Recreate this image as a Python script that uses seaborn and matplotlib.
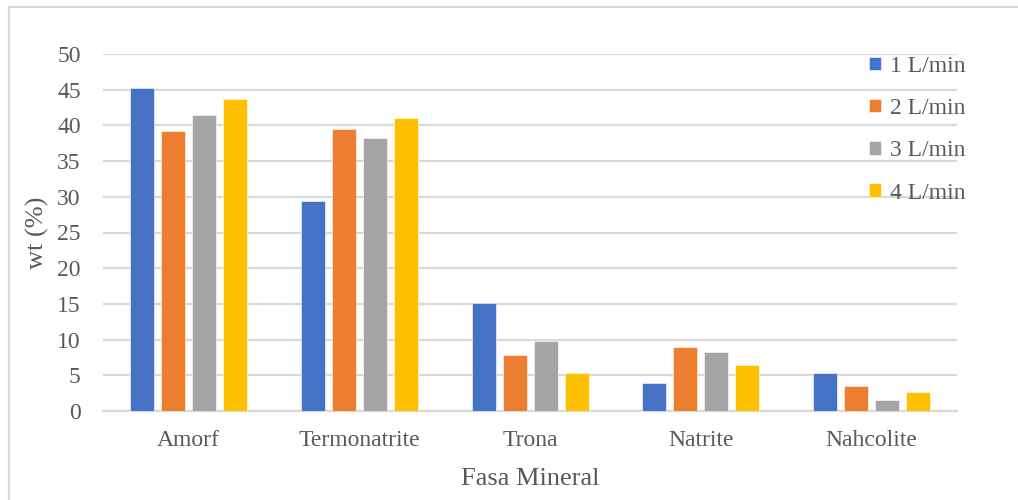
import matplotlib
matplotlib.use("Agg")
import matplotlib.pyplot as plt
from matplotlib.lines import Line2D
import pandas as pd
import seaborn as sns

# Mineral phases and weight fraction (%) at each gas flow rate
minerals = ["Amorf", "Termonatrite", "Trona", "Natrite", "Nahcolite"]
flow_rates = ["1 L/min", "2 L/min", "3 L/min", "4 L/min"]
wt_1 = [45.3, 29.4, 15.1, 3.9, 5.3]
wt_2 = [39.2, 39.5, 7.8, 8.9, 3.5]
wt_3 = [41.5, 38.3, 9.8, 8.2, 1.5]
wt_4 = [43.7, 41.1, 5.3, 6.5, 2.6]
y_ticks = [0, 5, 10, 15, 20, 25, 30, 35, 40, 45, 50]

colors = ["#4472C4", "#ED7D31", "#A5A5A5", "#FFC000"]
text_color = "#595959"
grid_color = "#D9D9D9"

rows = []
for rate, vals in zip(flow_rates, [wt_1, wt_2, wt_3, wt_4]):
    for m, v in zip(minerals, vals):
        rows.append({"Fasa Mineral": m, "Laju": rate, "wt": v})
df = pd.DataFrame(rows)

sns.set_style("white")
plt.rcParams["font.family"] = ["Liberation Serif", "DejaVu Serif"]

fig = plt.figure(figsize=(10.18, 5.0), dpi=100)
ax = fig.add_axes([0.1012, 0.178, 0.8389, 0.714])

sns.barplot(
    data=df, x="Fasa Mineral", y="wt", hue="Laju",
    order=minerals, hue_order=flow_rates, palette=colors, saturation=1,
    width=0.726, gap=0.226, errorbar=None, ax=ax,
    edgecolor="white", linewidth=0.4, zorder=3,
)

ax.set_ylim(0, 50)
ax.set_xlim(-0.5, len(minerals) - 0.5)
ax.set_yticks(y_ticks)
ax.yaxis.grid(True, color=grid_color, linewidth=1.6, zorder=0)
ax.set_axisbelow(True)
for side in ["top", "right", "left"]:
    ax.spines[side].set_visible(False)
ax.spines["bottom"].set_color(grid_color)
ax.spines["bottom"].set_linewidth(1.6)
ax.tick_params(axis="both", length=0, labelsize=17, colors=text_color)
ax.tick_params(axis="y", pad=16)
ax.tick_params(axis="x", pad=14)

ax.set_xlabel("Fasa Mineral", fontsize=19, color=text_color, labelpad=12)
ax.set_ylabel("wt (%)", fontsize=19, color=text_color, labelpad=6)

handles, labels = ax.get_legend_handles_labels()
ax.legend(
    handles, labels, loc="upper left", bbox_to_anchor=(857 / 1018, 1 - 44 / 500),
    bbox_transform=fig.transFigure, frameon=False, fontsize=17,
    handlelength=0.5, handleheight=0.5, handletextpad=0.4,
    labelspacing=0.9, borderpad=0, labelcolor=text_color,
)

# Chart frame edges
fig.add_artist(Line2D([9 / 1018, 9 / 1018], [0, 1 - 7 / 500],
                      transform=fig.transFigure, color=grid_color, linewidth=1.6))
fig.add_artist(Line2D([9 / 1018, 1], [1 - 7 / 500, 1 - 7 / 500],
                      transform=fig.transFigure, color=grid_color, linewidth=1.6))

fig.savefig("out.png", dpi=100, facecolor="white")
